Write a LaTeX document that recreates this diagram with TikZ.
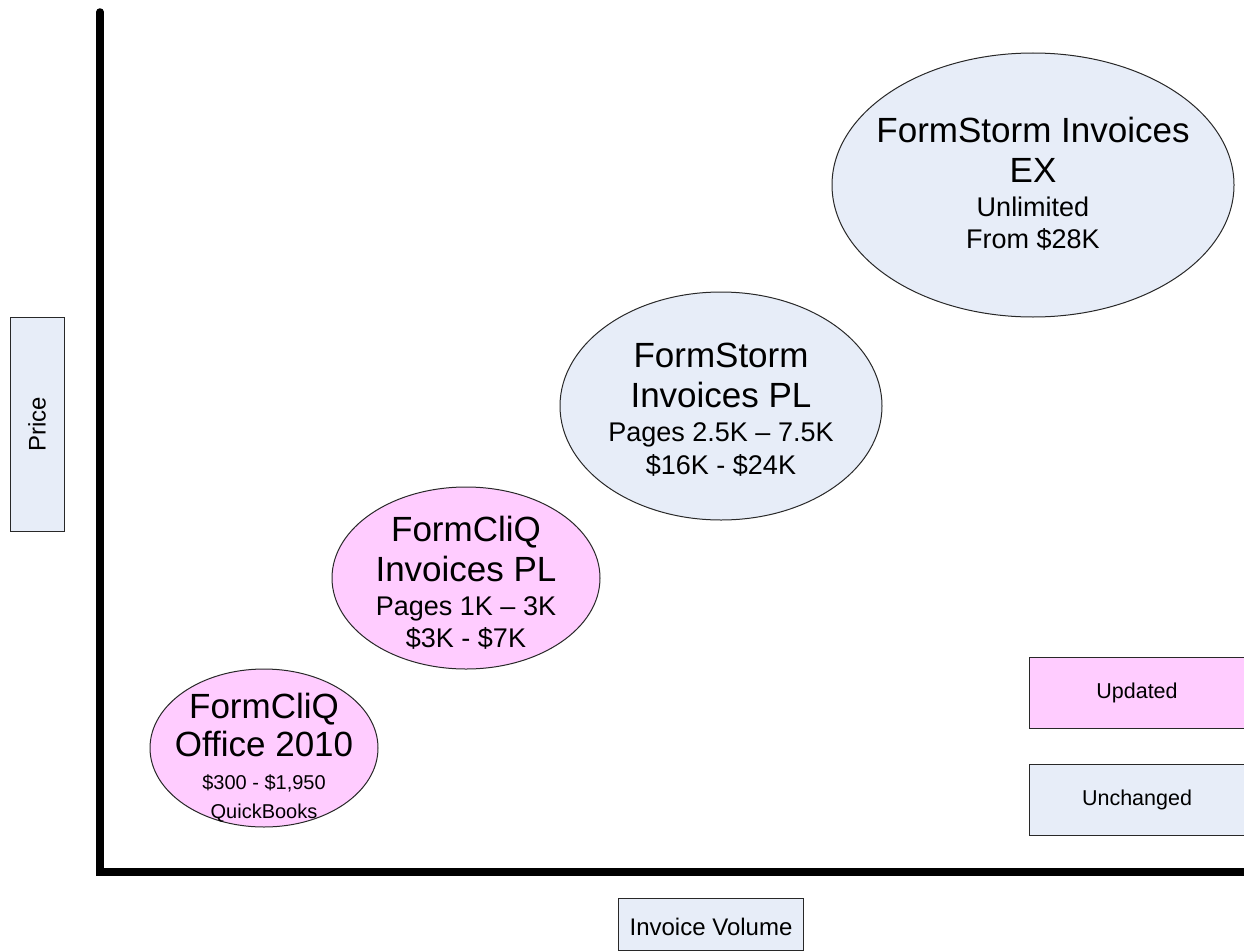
\documentclass[tikz,border=0pt]{standalone}
\usepackage{fontspec}
\setmainfont{Liberation Sans}
\usetikzlibrary{shapes.geometric}
\definecolor{pinkfill}{RGB}{255,204,255}
\definecolor{bluefill}{RGB}{231,237,248}
\definecolor{edge}{RGB}{40,40,40}
\tikzset{
  oval/.style={ellipse, draw=edge, line width=1pt, inner sep=0pt},
  upd/.style={oval, fill=pinkfill},
  unc/.style={oval, fill=bluefill},
  big/.style={font=\fontsize{35}{40}\selectfont},
  ovaltext/.style={align=center, inner sep=0pt},
  legendbox/.style={draw=edge, line width=1pt, inner sep=0pt, font=\fontsize{21.5}{24}\selectfont},
  axislabel/.style={font=\fontsize{24}{28}\selectfont},
  axis/.style={line width=7.5pt, line cap=round, line join=miter}
}
\newcommand{\smalltxt}{\fontsize{27}{31}\selectfont}
\newcommand{\tinytxt}{\fontsize{20}{23}\selectfont}
\begin{document}
\begin{tikzpicture}[x=1pt,y=-1pt]
\useasboundingbox[fill=white] (0,0) rectangle (1244,950);
% axes
\coordinate (top) at (100,12);
\coordinate (corner) at (100,872);
\coordinate (right) at (1256,872);
\draw[axis] (top) -- (corner) -- (right);
% ellipses
\node[upd, minimum width=228pt, minimum height=158pt] (e1) at (264,748) {};
\node[upd, minimum width=268pt, minimum height=182pt] (e2) at (466,578) {};
\node[unc, minimum width=322pt, minimum height=228pt] (e3) at (721,406) {};
\node[unc, minimum width=402pt, minimum height=264pt] (e4) at (1033,185) {};
% texts
\node[ovaltext, big] (t1) at ([yshift=-10pt]e1.center) {FormCliQ\\[-2pt]Office 2010\\[-7pt]{\tinytxt \$300 - \$1,950}\\[-11pt]{\tinytxt QuickBooks}};
\node[ovaltext, big] (t2) at ([yshift=-5pt]e2.center) {FormCliQ\\Invoices PL\\[-6pt]{\smalltxt Pages 1K -- 3K}\\[-8pt]{\smalltxt \$3K - \$7K}};
\node[ovaltext, big] (t3) at ([yshift=-4pt]e3.center) {FormStorm\\Invoices PL\\[-6pt]{\smalltxt Pages 2.5K -- 7.5K}\\[-7pt]{\smalltxt \$16K - \$24K}};
\node[ovaltext, big] (t4) at ([yshift=1pt]e4.center) {FormStorm Invoices\\EX\\[-6pt]{\smalltxt Unlimited}\\[-8pt]{\smalltxt From \$28K}};
% legend and axis labels
\node[legendbox, fill=bluefill, minimum width=54pt, minimum height=214pt] (price) at (37,424) {};
\node[rotate=90, axislabel] (pricetxt) at (price.center) {Price};
\node[legendbox, fill=bluefill, minimum width=185pt, minimum height=52pt, anchor=north west] (vol) at (618,898) {};
\node[axislabel] (voltxt) at ([yshift=-2pt]vol.center) {Invoice Volume};
\node[legendbox, fill=pinkfill, minimum width=215pt, minimum height=71pt, anchor=north west] (updated) at (1029,657) {Updated};
\node[legendbox, fill=bluefill, minimum width=215pt, minimum height=71pt, anchor=north west] (unchanged) at (1029,764) {Unchanged};
\end{tikzpicture}
\end{document}
